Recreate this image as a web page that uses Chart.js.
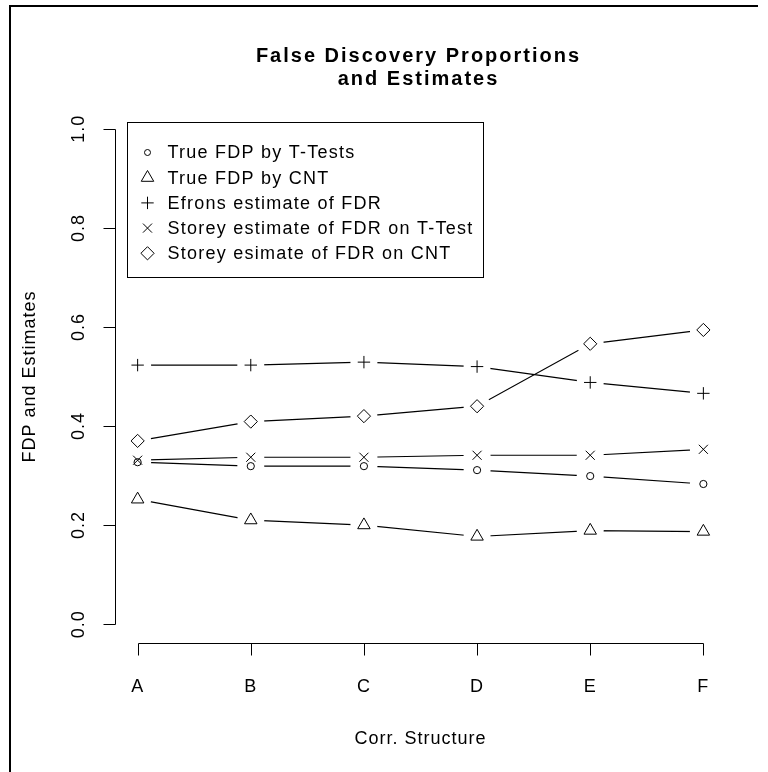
<!DOCTYPE html>
<html>
<head>
<meta charset="utf-8">
<title>False Discovery Proportions and Estimates</title>
<script src="https://cdn.jsdelivr.net/npm/chart.js@4.4.1/dist/chart.umd.min.js"></script>
<style>
  html, body { margin: 0; padding: 0; background: #ffffff; }
  #c { display: block; }
</style>
</head>
<body>
<canvas id="c" width="768" height="772"></canvas>
<script>
// ---- data ----
const categories = ['A', 'B', 'C', 'D', 'E', 'F'];
const yTickValues = [0, 0.2, 0.4, 0.6, 0.8, 1.0];
const yTickLabels = ['0.0', '0.2', '0.4', '0.6', '0.8', '1.0'];

const trueFdpTTests = [0.327, 0.319, 0.319, 0.311, 0.299, 0.283];
const trueFdpCnt    = [0.252, 0.210, 0.200, 0.177, 0.189, 0.187];
const efronFdr      = [0.523, 0.523, 0.529, 0.520, 0.488, 0.466];
const storeyTTest   = [0.331, 0.337, 0.337, 0.341, 0.341, 0.353];
const storeyCnt     = [0.370, 0.409, 0.420, 0.440, 0.566, 0.594];

const seriesLabels = [
  'True FDP by T-Tests',
  'True FDP by CNT',
  'Efrons estimate of FDR',
  'Storey estimate of FDR on T-Test',
  'Storey esimate of FDR on CNT'
];
const chartTitle = ['False Discovery Proportions', 'and Estimates'];
const xTitle = 'Corr. Structure';
const yTitle = 'FDP and Estimates';

// ---- styling ----
const FONT = '"Liberation Sans", Arial, Helvetica, sans-serif';
const series = [
  { label: seriesLabels[0], values: trueFdpTTests, style: 'circle',   r: 3.6 },
  { label: seriesLabels[1], values: trueFdpCnt,    style: 'triangle', r: 7.2 },
  { label: seriesLabels[2], values: efronFdr,      style: 'cross',    r: 6.2 },
  { label: seriesLabels[3], values: storeyTTest,   style: 'crossRot', r: 6.4 },
  { label: seriesLabels[4], values: storeyCnt,     style: 'rectRot',  r: 6.6 }
];

function setSpacing(ctx, px) {
  if ('letterSpacing' in ctx) ctx.letterSpacing = px + 'px';
}

// Lines stop short of each marker, leaving a small gap around it.
const gappedLines = {
  id: 'gappedLines',
  beforeDatasetDraw(chart, args) {
    const ctx = chart.ctx;
    const meta = args.meta;
    const area = chart.chartArea;
    const gap = 13.5;
    ctx.save();
    ctx.beginPath();
    ctx.rect(0, 0, chart.width, chart.height);
    meta.data.forEach(p => {
      ctx.moveTo(p.x + gap, p.y);
      ctx.arc(p.x, p.y, gap, 0, Math.PI * 2, true);
    });
    ctx.clip('evenodd');
    meta.dataset.draw(ctx, area);
    ctx.restore();
    meta.data.forEach(p => p.draw(ctx, area));
    return false;
  }
};

// Axes in the classic style: lines run only between the outer ticks.
const classicAxes = {
  id: 'classicAxes',
  afterDraw(chart) {
    const ctx = chart.ctx;
    const xs = chart.scales.x, ys = chart.scales.y;
    const area = chart.chartArea;
    const tick = 12;
    ctx.save();
    ctx.strokeStyle = '#000';
    ctx.fillStyle = '#000';
    ctx.lineWidth = 1;

    // y axis
    const ax = Math.round(area.left) + 0.5;
    const yTop = Math.round(ys.getPixelForValue(yTickValues[yTickValues.length - 1])) + 0.5;
    const yBot = Math.round(ys.getPixelForValue(yTickValues[0])) + 0.5;
    ctx.beginPath();
    ctx.moveTo(ax, yBot); ctx.lineTo(ax, yTop);
    yTickValues.forEach(v => {
      const p = Math.round(ys.getPixelForValue(v)) + 0.5;
      ctx.moveTo(ax, p); ctx.lineTo(ax - tick, p);
    });
    // x axis
    const ay = Math.round(area.bottom) - 0.5;
    const xL = Math.round(xs.getPixelForValue(1)) + 0.5;
    const xR = Math.round(xs.getPixelForValue(categories.length)) + 0.5;
    ctx.moveTo(xL, ay); ctx.lineTo(xR, ay);
    categories.forEach((c, i) => {
      const p = Math.round(xs.getPixelForValue(i + 1)) + 0.5;
      ctx.moveTo(p, ay); ctx.lineTo(p, ay + tick);
    });
    ctx.stroke();

    ctx.font = '18px ' + FONT;
    setSpacing(ctx, 1);
    // y tick labels, rotated
    ctx.textAlign = 'center';
    ctx.textBaseline = 'middle';
    yTickValues.forEach((v, i) => {
      ctx.save();
      ctx.translate(area.left - 36, ys.getPixelForValue(v));
      ctx.rotate(-Math.PI / 2);
      ctx.fillText(yTickLabels[i], 0, 0);
      ctx.restore();
    });
    // x tick labels
    ctx.textBaseline = 'alphabetic';
    categories.forEach((c, i) => {
      ctx.fillText(c, xs.getPixelForValue(i + 1), area.bottom + 48);
    });
    // axis titles
    const cx = (area.left + area.right) / 2;
    const cy = (area.top + area.bottom) / 2;
    ctx.fillText(xTitle, cx, area.bottom + 100);
    ctx.save();
    ctx.translate(area.left - 85, cy);
    ctx.rotate(-Math.PI / 2);
    ctx.textBaseline = 'middle';
    ctx.fillText(yTitle, 0, 0);
    ctx.restore();

    // main title
    ctx.font = 'bold 20px ' + FONT;
    setSpacing(ctx, 2);
    ctx.textBaseline = 'alphabetic';
    ctx.fillText(chartTitle[0], cx - 2, 62);
    ctx.fillText(chartTitle[1], cx - 2, 85);
    ctx.restore();
  }
};

// Boxed legend in the upper-left of the plot region.
const boxedLegend = {
  id: 'boxedLegend',
  afterDraw(chart) {
    const ctx = chart.ctx;
    const area = chart.chartArea;
    const left = Math.round(area.left + 12) + 0.5;
    const top = Math.round(area.top + 13) + 0.5;
    const rowH = 25.2;
    const symX = left + 20;
    const textX = left + 40;
    ctx.save();
    ctx.font = '18px ' + FONT;
    setSpacing(ctx, 1.25);
    let maxW = 0;
    series.forEach(s => { maxW = Math.max(maxW, ctx.measureText(s.label).width); });
    const width = Math.round(textX - left + maxW + 10);
    const height = Math.round(rowH * series.length + 29);
    ctx.strokeStyle = '#000';
    ctx.lineWidth = 1;
    ctx.strokeRect(left, top, width, height);

    ctx.fillStyle = '#000';
    ctx.textAlign = 'left';
    ctx.textBaseline = 'middle';
    const drawPoint = Chart.helpers && Chart.helpers.drawPoint;
    series.forEach((s, i) => {
      const y = top + 30 + i * rowH;
      ctx.save();
      ctx.strokeStyle = '#000';
      ctx.fillStyle = 'rgba(0,0,0,0)';
      ctx.lineWidth = 1;
      if (drawPoint) {
        drawPoint(ctx, { pointStyle: s.style, rotation: 0, radius: s.style === 'circle' ? 3 : s.r, borderWidth: 1 }, symX, y);
      }
      ctx.restore();
      ctx.fillText(s.label, textX, y + 1);
    });
    ctx.restore();
  }
};

// Frame round the figure.
const frame = {
  id: 'frame',
  afterDraw(chart) {
    const ctx = chart.ctx;
    ctx.save();
    ctx.strokeStyle = '#000';
    ctx.lineWidth = 2;
    ctx.beginPath();
    ctx.moveTo(10, chart.height);
    ctx.lineTo(10, 6);
    ctx.lineTo(chart.width - 10, 6);
    ctx.stroke();
    ctx.restore();
  }
};

const ctx = document.getElementById('c').getContext('2d');
new Chart(ctx, {
  type: 'line',
  data: {
    datasets: series.map(s => ({
      label: s.label,
      data: s.values.map((v, i) => ({ x: i + 1, y: v })),
      borderColor: '#000',
      borderWidth: 1.2,
      tension: 0,
      fill: false,
      pointStyle: s.style,
      pointRadius: s.r,
      pointBorderColor: '#000',
      pointBorderWidth: 1,
      pointBackgroundColor: 'rgba(0,0,0,0)'
    }))
  },
  options: {
    responsive: false,
    animation: false,
    devicePixelRatio: 1,
    events: [],
    layout: { padding: { left: 115, top: 109, right: 768 - 726, bottom: 772 - 644 } },
    scales: {
      x: { type: 'linear', min: 0.8, max: 6.2, display: false },
      y: { type: 'linear', min: -0.04, max: 1.04, display: false }
    },
    plugins: {
      legend: { display: false },
      title: { display: false },
      tooltip: { enabled: false }
    }
  },
  plugins: [gappedLines, classicAxes, boxedLegend, frame]
});
</script>
</body>
</html>
